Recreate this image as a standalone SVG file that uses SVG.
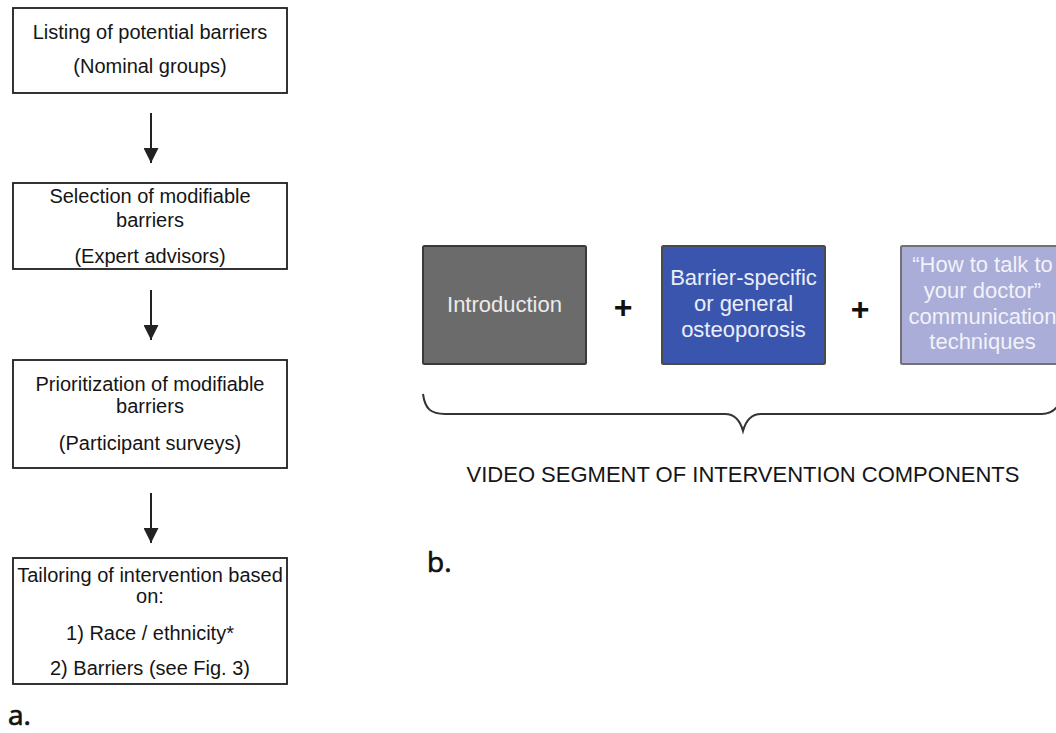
<svg xmlns="http://www.w3.org/2000/svg" width="1056" height="733" viewBox="0 0 1056 733">
<style>
.box{fill:#ffffff;stroke:#1e1e1e;stroke-width:1.8}
.t{font-family:"Liberation Sans",Arial,sans-serif;font-size:20px;fill:#151515;text-anchor:middle}
.w{font-family:"Liberation Sans",Arial,sans-serif;font-size:22px;text-anchor:middle}
.plus{font-family:"Liberation Sans",Arial,sans-serif;font-size:32px;font-weight:bold;fill:#111;text-anchor:middle}
.lab{font-family:"Open Sans","DejaVu Sans",sans-serif;font-size:28px;fill:#111;stroke:#111;stroke-width:0.7}
.arr{stroke:#222;stroke-width:2;fill:none}
</style>
<defs>
<marker id="ah" markerUnits="userSpaceOnUse" markerWidth="16" markerHeight="15" viewBox="0 0 16 15" refX="15" refY="7.5" orient="auto">
<path d="M0,0 L15,7.5 L0,15 z" fill="#222"/>
</marker>
</defs>
<rect width="1056" height="733" fill="#ffffff"/>

<g id="node-listing">
<rect class="box" x="13" y="8" width="274" height="85"/>
<text class="t" x="150" y="39">Listing of potential barriers</text>
<text class="t" x="150" y="73">(Nominal groups)</text>
</g>
<g id="node-selection">
<rect class="box" x="13" y="183" width="274" height="86"/>
<text class="t" x="150" y="203">Selection of modifiable</text>
<text class="t" x="150" y="227">barriers</text>
<text class="t" x="150" y="263">(Expert advisors)</text>
</g>
<g id="node-prioritization">
<rect class="box" x="13" y="360" width="274" height="108"/>
<text class="t" x="150" y="391">Prioritization of modifiable</text>
<text class="t" x="150" y="413">barriers</text>
<text class="t" x="150" y="450">(Participant surveys)</text>
</g>
<g id="node-tailoring">
<rect class="box" x="13" y="558" width="274" height="126"/>
<text class="t" x="150" y="582">Tailoring of intervention based</text>
<text class="t" x="150" y="603">on:</text>
<text class="t" x="150" y="640">1) Race / ethnicity*</text>
<text class="t" x="150" y="675">2) Barriers (see Fig. 3)</text>
</g>

<g id="connectors">
<line class="arr" x1="151" y1="113" x2="151" y2="163" marker-end="url(#ah)"/>
<line class="arr" x1="151" y1="290" x2="151" y2="340" marker-end="url(#ah)"/>
<line class="arr" x1="151" y1="493" x2="151" y2="543" marker-end="url(#ah)"/>
</g>

<text class="lab" x="8" y="725">a.</text>

<g id="node-introduction">
<rect x="423" y="246" width="163" height="118" rx="1.5" fill="#6b6b6b" stroke="#3a3a3a" stroke-width="2"/>
<text class="w" x="504.5" y="312" fill="#ececec">Introduction</text>
</g>
<text class="plus" x="623" y="318">+</text>
<g id="node-barrier">
<rect x="662" y="246" width="163" height="118" rx="1.5" fill="#3a55ae" stroke="#4a4a4a" stroke-width="2"/>
<text class="w" x="743.5" y="285" fill="#eaeef9">Barrier-specific</text>
<text class="w" x="743.5" y="311" fill="#eaeef9">or general</text>
<text class="w" x="743.5" y="337" fill="#eaeef9">osteoporosis</text>
</g>
<text class="plus" x="860" y="320">+</text>
<g id="node-communication">
<rect x="901" y="246" width="163" height="118" rx="1.5" fill="#a9add7" stroke="#727272" stroke-width="2"/>
<text class="w" x="982.5" y="272" fill="#f2f2fa">“How to talk to</text>
<text class="w" x="982.5" y="298" fill="#f2f2fa">your doctor”</text>
<text class="w" x="982.5" y="324" fill="#f2f2fa">communication</text>
<text class="w" x="982.5" y="349" fill="#f2f2fa">techniques</text>
</g>

<g id="brace">
<path d="M423,394 C425,409 431,414 445,414 L725,414 C735,414 740,420 743,431 C746,420 751,414 761,414 L1042,414 C1050,414 1055,411 1059,404" fill="none" stroke="#333" stroke-width="2"/>
</g>
<text class="w" x="743" y="482" fill="#151515">VIDEO SEGMENT OF INTERVENTION COMPONENTS</text>
<text class="lab" x="427" y="572">b.</text>
</svg>
